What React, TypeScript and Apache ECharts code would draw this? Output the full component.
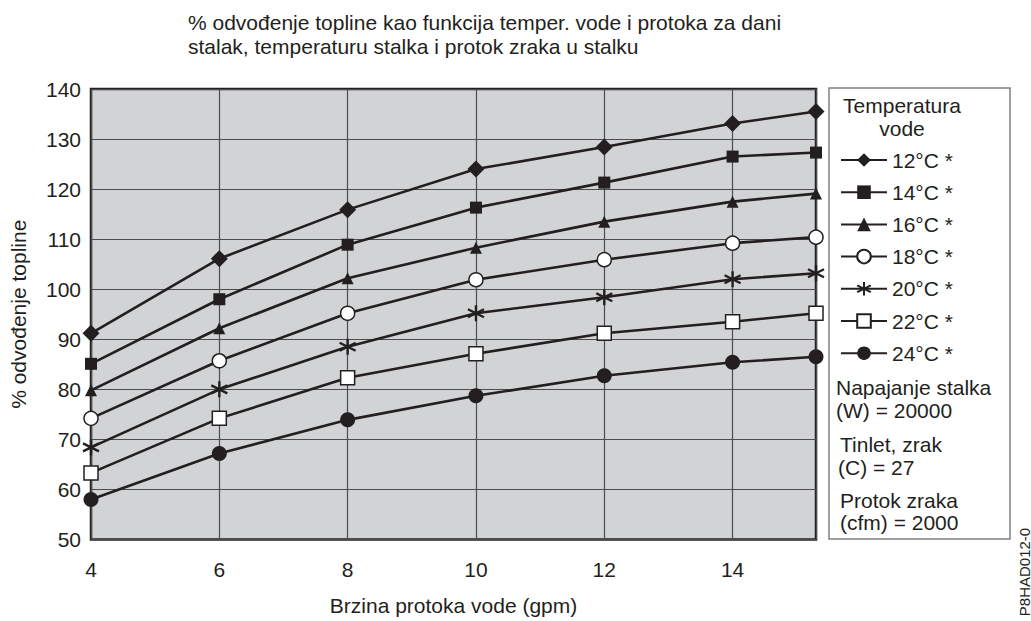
import React, { useEffect, useRef } from "react";
import * as echarts from "echarts";

const xValues = [4, 6, 8, 10, 12, 14, 15.3];
const seriesNames = ["12°C *", "14°C *", "16°C *", "18°C *", "20°C *", "22°C *", "24°C *"];
const s12 = [91.2, 106.1, 115.9, 124.0, 128.4, 133.1, 135.5];
const s14 = [85.1, 98.0, 108.9, 116.3, 121.3, 126.5, 127.3];
const s16 = [79.8, 92.2, 102.2, 108.3, 113.5, 117.5, 119.1];
const s18 = [74.2, 85.7, 95.2, 101.9, 105.9, 109.2, 110.4];
const s20 = [68.4, 80.0, 88.5, 95.2, 98.4, 102.0, 103.2];
const s22 = [63.3, 74.2, 82.3, 87.1, 91.2, 93.5, 95.2];
const s24 = [58.0, 67.2, 73.9, 78.7, 82.7, 85.4, 86.5];
const allSeries = [s12, s14, s16, s18, s20, s22, s24];

const titleText = "% odvođenje topline kao funkcija temper. vode i protoka za dani\nstalak, temperaturu stalka i protok zraka u stalku";
const yAxisName = "% odvođenje topline";
const xAxisName = "Brzina protoka vode (gpm)";
const legendHeader = ["Temperatura", "vode"];
const footerLines = ["Napajanje stalka", "(W) = 20000", "Tinlet, zrak", "(C) = 27", "Protok zraka", "(cfm) = 2000"];
const figureId = "P8HAD012-0";

const INK = "#231f20";
const FONT = "'Liberation Sans', Arial, Helvetica, sans-serif";
const FS = 21;
const ASTERISK = "path://M0,-10L0,10M-8.66,-5L8.66,5M-8.66,5L8.66,-5";

const symbolDefs = [
  { symbol: "diamond", size: 17, fill: INK, border: 0 },
  { symbol: "rect", size: 12, fill: INK, border: 0 },
  { symbol: "triangle", size: 12, fill: INK, border: 0 },
  { symbol: "circle", size: 14, fill: "#ffffff", border: 1.5 },
  { symbol: ASTERISK, size: 16, fill: INK, border: 2.4 },
  { symbol: "rect", size: 14, fill: "#ffffff", border: 1.5 },
  { symbol: "circle", size: 15, fill: INK, border: 0 },
];

export default function App() {
  const ref = useRef<HTMLDivElement>(null);
  useEffect(() => {
    document.body.style.margin = "0";
    if (!ref.current) return;
    const chart = echarts.init(ref.current, undefined, { renderer: "svg" });
    const series = allSeries.map((vals, i) => {
      const d = symbolDefs[i];
      return {
        name: seriesNames[i],
        type: "line",
        data: vals.map((v, j) => [xValues[j], v]),
        symbol: d.symbol,
        symbolSize: d.size,
        showAllSymbol: true,
        lineStyle: { color: INK, width: 2.6 },
        itemStyle: {
          color: d.fill,
          borderColor: INK,
          borderWidth: d.border,
          opacity: 1,
        },
        emphasis: { disabled: true },
        z: 3,
      };
    });
    const footerY = [387, 410, 444, 467, 500, 522];
    const footerX = [836, 836, 840, 838, 840, 840];
    chart.setOption({
      animation: false,
      textStyle: { fontFamily: FONT, color: INK },
      title: {
        text: titleText,
        left: 188,
        top: 10,
        padding: 0,
        textStyle: { fontFamily: FONT, fontSize: FS, fontWeight: "normal", lineHeight: 24, color: INK },
      },
      grid: {
        left: 90,
        top: 89,
        right: 215,
        bottom: 81.5,
        show: true,
        backgroundColor: "#d1d3d4",
        borderColor: INK,
        borderWidth: 2.5,
        containLabel: false,
      },
      xAxis: {
        type: "value",
        min: 4,
        max: 15.3,
        interval: 2,
        name: xAxisName,
        nameLocation: "middle",
        nameGap: 55,
        nameTextStyle: { fontSize: FS, color: INK, fontFamily: FONT },
        axisLine: { show: false },
        axisTick: { show: false },
        axisLabel: { fontSize: FS, color: INK, margin: 19, showMaxLabel: false, fontFamily: FONT },
        splitLine: { show: true, lineStyle: { color: "#4d4d4f", width: 1.2 } },
      },
      yAxis: {
        type: "value",
        min: 50,
        max: 140,
        interval: 10,
        name: yAxisName,
        nameLocation: "middle",
        nameGap: 62,
        nameTextStyle: { fontSize: FS, color: INK, fontFamily: FONT },
        axisLine: { show: false },
        axisTick: { show: false },
        axisLabel: { fontSize: FS, color: INK, margin: 10, fontFamily: FONT },
        splitLine: { show: true, lineStyle: { color: "#4d4d4f", width: 1.2 } },
      },
      legend: {
        orient: "vertical",
        left: 840,
        top: 149.5,
        padding: 0,
        itemWidth: 46,
        itemHeight: 17,
        itemGap: 11.2,
        selectedMode: false,
        data: seriesNames,
        textStyle: { fontSize: FS, color: INK, fontFamily: FONT },
      },
      graphic: [
        {
          type: "rect",
          shape: { x: 829, y: 88, width: 181, height: 451 },
          style: { fill: "#ffffff", stroke: "#808080", lineWidth: 1.5 },
          z: 0,
        },
        ...legendHeader.map((t, i) => ({
          type: "text",
          x: 902,
          y: 105 + i * 23,
          style: { text: t, fontSize: FS, fill: INK, fontFamily: FONT, align: "center", verticalAlign: "middle" },
          z: 1,
        })),
        ...footerLines.map((t, i) => ({
          type: "text",
          x: footerX[i],
          y: footerY[i],
          style: { text: t, fontSize: FS, fill: INK, fontFamily: FONT, align: "left", verticalAlign: "middle" },
          z: 1,
        })),
        {
          type: "text",
          x: 1024,
          y: 572,
          rotation: Math.PI / 2,
          style: { text: figureId, fontSize: 15, fill: INK, fontFamily: FONT, align: "center", verticalAlign: "middle" },
          z: 1,
        },
      ],
      series,
    });
    return () => chart.dispose();
  }, []);
  return <div ref={ref} style={{ width: 1031, height: 621 }} />;
}
